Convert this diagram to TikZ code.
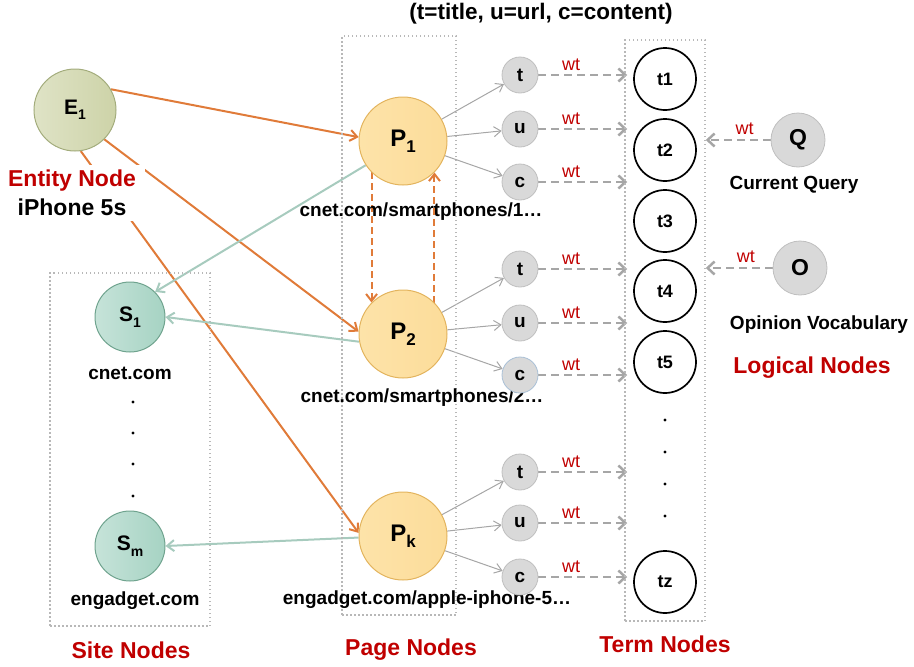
\documentclass[tikz,border=0pt]{standalone}
\usepackage{fontspec}
\setmainfont{Liberation Sans}
\usetikzlibrary{arrows.meta}
\definecolor{redlbl}{HTML}{C00000}
\definecolor{orng}{HTML}{E07B39}
\definecolor{siteln}{HTML}{A7CBBE}
\definecolor{grayln}{HTML}{A6A6A6}
\definecolor{boxln}{HTML}{B8B8B8}
\definecolor{entbd}{HTML}{A3AC7C}
\definecolor{entA}{HTML}{DFE3C6}
\definecolor{entB}{HTML}{CDD3A8}
\definecolor{pagebd}{HTML}{E3B45E}
\definecolor{pageA}{HTML}{FDE3A9}
\definecolor{pageB}{HTML}{FBD283}
\definecolor{sitebd}{HTML}{6FA38E}
\definecolor{siteA}{HTML}{C6E3D9}
\definecolor{siteB}{HTML}{A6D3C3}
\definecolor{smallfill}{HTML}{D9D9D9}
\definecolor{smallbd}{HTML}{BFBFBF}
\definecolor{cbd}{HTML}{A9C0D6}
\newcommand\fsz[1]{\fontsize{#1}{#1}\selectfont}
\pgfdeclarelayer{bg}
\pgfsetlayers{bg,main}
\tikzset{
  entity/.style={circle, draw=entbd, line width=1pt, left color=entA, right color=entB,
    minimum size=82pt, inner sep=0pt, font=\bfseries},
  pagenode/.style={circle, draw=pagebd, line width=1pt, left color=pageA, middle color=pageB,
    right color=pageA!60!pageB, minimum size=88pt, inner sep=0pt, font=\bfseries},
  sitenode/.style={circle, draw=sitebd, line width=1pt, left color=siteA, right color=siteB,
    minimum size=70pt, inner sep=0pt, font=\bfseries},
  field/.style={circle, draw=smallbd, line width=0.8pt, fill=smallfill,
    minimum size=36pt, inner sep=0pt, font=\bfseries\fsz{19}},
  termnode/.style={circle, draw=black, line width=1.7pt, fill=white,
    minimum size=62pt, inner sep=0pt, font=\bfseries\fsz{18}},
  logicnode/.style={circle, draw=smallbd, line width=0.8pt, fill=smallfill,
    minimum size=54pt, inner sep=0pt, font=\bfseries\fsz{23}},
  dotbox/.style={draw=boxln, line width=1.5pt, dash pattern=on 1.5pt off 2.5pt,
    inner sep=0pt},
  barb/.style={-{Straight Barb[length=7pt,width=11pt]}},
  orangeedge/.style={barb, draw=orng, line width=2pt},
  linkedge/.style={orangeedge, dash pattern=on 7pt off 4pt},
  siteedge/.style={barb, draw=siteln, line width=2pt},
  thinedge/.style={-{Straight Barb[length=7pt,width=10pt]}, draw=grayln, line width=1pt},
  wtedge/.style={-{Straight Barb[length=7pt,width=13pt]}, draw=grayln, line width=2.5pt,
    dash pattern=on 8pt off 5pt},
  wtlbl/.style={text=redlbl, font=\fsz{18}, inner sep=1pt},
  caption/.style={font=\bfseries\fsz{23}, text=redlbl},
  urllbl/.style={font=\bfseries\fsz{19}},
}
\begin{document}
\begin{tikzpicture}[x=1pt, y=-1pt]
\useasboundingbox (0,0) rectangle (914,667);

% group frames
\node[dotbox, minimum width=160pt, minimum height=353pt] (sitebox) at (130,449.5) {};
\node[dotbox, minimum width=114pt, minimum height=579pt] (pagebox) at (399,325.5) {};
\node[dotbox, minimum width=80pt, minimum height=581pt] (termbox) at (665,330.5) {};

% header
\node[font=\bfseries\fsz{22.5}] (legend) at (541,14) {(t=title, u=url, c=content)};

% entity
\node[entity] (E1) at (75,110) {{\fsz{21}E}\raisebox{-5pt}{\fsz{14}1}};
\node[font=\bfseries\fontsize{23}{29}\selectfont, align=center, fill=white,
  inner xsep=9pt, inner ysep=5pt] (entlbl) at (72,193)
  {\textcolor{redlbl}{Entity Node}\\iPhone 5s};

% pages
\node[pagenode] (P1) at (403,141) {{\fsz{24}P}\raisebox{-6pt}{\fsz{17}1}};
\node[pagenode] (P2) at (403,334) {{\fsz{24}P}\raisebox{-6pt}{\fsz{17}2}};
\node[pagenode] (Pk) at (403,536) {{\fsz{24}P}\raisebox{-6pt}{\fsz{17}k}};
\node[urllbl] (u1) at (421,212) {cnet.com/smartphones/1…};
\node[urllbl] (u2) at (422,398) {cnet.com/smartphones/2…};
\node[urllbl] (uk) at (427,600) {engadget.com/apple-iphone-5…};

% fields of each page
\node[field] (t1f) at (520,75) {t};
\node[field] (u1f) at (520,129) {u};
\node[field] (c1f) at (520,182) {c};
\node[field] (t2f) at (520,269) {t};
\node[field] (u2f) at (520,323) {u};
\node[field, draw=cbd] (c2f) at (520,375) {c};
\node[field] (tkf) at (520,472) {t};
\node[field] (ukf) at (520,523) {u};
\node[field] (ckf) at (520,577) {c};

% sites
\node[sitenode] (S1) at (130,317) {{\fsz{21}S}\raisebox{-6pt}{\fsz{14}1}};
\node[sitenode] (Sm) at (130,546) {{\fsz{21}S}\raisebox{-6pt}{\fsz{14}m}};
\node[urllbl] (s1lbl) at (130,373) {cnet.com};
\node[urllbl] (smlbl) at (135,601) {engadget.com};
\foreach \y in {402,433,464,496} \fill (133,\y) circle (1.6pt);

% terms
\node[termnode] (tt1) at (665,79) {t1};
\node[termnode] (tt2) at (665,150) {t2};
\node[termnode] (tt3) at (665,221) {t3};
\node[termnode] (tt4) at (665,291) {t4};
\node[termnode] (tt5) at (665,362) {t5};
\node[termnode] (ttz) at (665,582) {tz};
\foreach \y in {420,452,484,516} \fill (665,\y) circle (1.6pt);

% logical nodes
\node[logicnode] (Q) at (798,140) {Q};
\node[logicnode] (O) at (800,268) {O};
\node[font=\bfseries\fsz{19}] (qlbl) at (794,185) {Current Query};
\node[font=\bfseries\fsz{19}] (olbl) at (819,325) {Opinion Vocabulary};

% captions
\node[caption] (capsite) at (131,650) {Site Nodes};
\node[caption] (cappage) at (411,650) {Page Nodes};
\node[caption] (capterm) at (665,644) {Term Nodes};
\node[caption] (caplog) at (812,368) {Logical Nodes};

\begin{pgfonlayer}{bg}
  % entity to pages
  \draw[orangeedge] (E1.30) -- (P1.175);
  \draw[orangeedge] (E1.-45) -- (P2.177);
  \draw[orangeedge] (E1.-82) -- (Pk.176);
  % links between pages
  \draw[linkedge] (P1.225) -- (P2.135);
  \draw[linkedge] (P2.45) -- (P1.-45);
  % pages to sites
  \draw[siteedge] (P1.213) -- (S1.45);
  \draw[siteedge] (P2.190) -- (S1.0);
  \draw[siteedge] (Pk.182) -- (Sm.0);
  % pages to fields
  \foreach \p/\a/\b/\c in {P1/t1f/u1f/c1f, P2/t2f/u2f/c2f, Pk/tkf/ukf/ckf}{
    \draw[thinedge] (\p) -- (\a);
    \draw[thinedge] (\p) -- (\b);
    \draw[thinedge] (\p) -- (\c);
  }
  % fields to terms
  \foreach \f in {t1f,u1f,c1f,t2f,u2f,c2f,tkf,ukf,ckf}{
    \draw[wtedge, shorten >=-3pt] (\f.east) -- (\f.east -| termbox.west)
      node[wtlbl, pos=0.38, above=2pt] {wt};
  }
  % logical nodes to terms
  \draw[wtedge] (Q.west) -- (Q.west -| termbox.east)
    node[wtlbl, pos=0.4, above=3pt] {wt};
  \draw[wtedge] (O.west) -- (O.west -| termbox.east)
    node[wtlbl, pos=0.4, above=3pt] {wt};
\end{pgfonlayer}
\end{tikzpicture}
\end{document}
